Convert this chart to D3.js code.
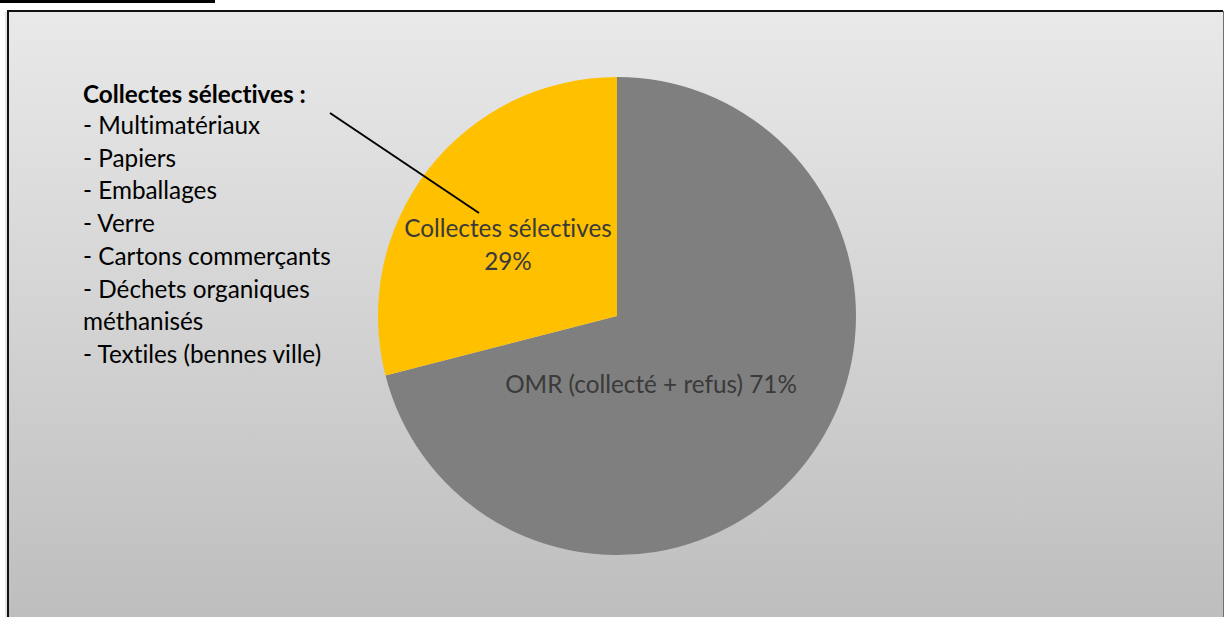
<!DOCTYPE html>
<html>
<head>
<meta charset="utf-8">
<script src="https://cdn.jsdelivr.net/npm/d3@7"></script>
<style>
html,body{margin:0;padding:0;background:#fff;}
svg{display:block;}
text{font-variant-ligatures:none;font-feature-settings:"liga" 0;}
</style>
</head>
<body>
<svg id="chart" width="1225" height="617"></svg>
<script>
const categories = ["OMR (collecté + refus)", "Collectes sélectives"];
const values = [71, 29];
const colors = ["#7f7f7f", "#ffc000"];
const legendTitle = "Collectes sélectives :";
const legendLines = ["- Multimatériaux", "- Papiers", "- Emballages", "- Verre", "- Cartons commerçants", "- Déchets organiques", "méthanisés", "- Textiles (bennes ville)"];

const svg = d3.select("#chart");
const FONT = "Lato, 'Open Sans', sans-serif";
const FS = 24.3;

const defs = svg.append("defs");
const grad = defs.append("linearGradient").attr("id","bg").attr("x1",0).attr("y1",0).attr("x2",0).attr("y2",1);
grad.append("stop").attr("offset","0%").attr("stop-color","#e9e9e9");
grad.append("stop").attr("offset","100%").attr("stop-color","#bdbdbd");

// top black bar
svg.append("rect").attr("x",0).attr("y",0).attr("width",215).attr("height",3).attr("fill","#000");

// chart area
svg.append("rect").attr("x",8).attr("y",11).attr("width",1215).attr("height",620).attr("fill","url(#bg)");
svg.append("line").attr("x1",8).attr("y1",11).attr("x2",1223).attr("y2",11).attr("stroke","#111").attr("stroke-width",2);
svg.append("line").attr("x1",8).attr("y1",10).attr("x2",8).attr("y2",617).attr("stroke","#111").attr("stroke-width",2);
svg.append("line").attr("x1",6).attr("y1",12).attr("x2",6).attr("y2",617).attr("stroke","#999").attr("stroke-width",1).attr("opacity",0.5);
svg.append("line").attr("x1",1223.5).attr("y1",11).attr("x2",1223.5).attr("y2",617).attr("stroke","#6f6f6f").attr("stroke-width",1);

// pie
const cx = 617, cy = 316, r = 239;
const pie = d3.pie().sort(null).value(d => d)(values);
const arc = d3.arc().innerRadius(0).outerRadius(r);
const g = svg.append("g").attr("transform", `translate(${cx},${cy})`);
g.selectAll("path").data(pie).join("path")
  .attr("d", arc).attr("fill", (d,i) => colors[i]);

const total = d3.sum(values);
const pct = v => Math.round(v/total*100) + "%";

// labels
const lab = svg.append("g").attr("font-family", FONT).attr("fill","#3a3a3a").attr("text-anchor","middle").attr("font-size",FS);
lab.append("text").attr("x",508).attr("y",237).text(categories[1]);
lab.append("text").attr("x",508).attr("y",270).text(pct(values[1]));
lab.append("text").attr("x",651).attr("y",393).text(categories[0] + " " + pct(values[0]));

// leader line
svg.append("line").attr("x1",330).attr("y1",113).attr("x2",479).attr("y2",213).attr("stroke","#000").attr("stroke-width",2);

// legend text
const leg = svg.append("g").attr("font-family", FONT).attr("fill","#000").attr("font-size",FS);
leg.append("text").attr("x",83).attr("y",103).attr("font-weight","bold").text(legendTitle);
leg.selectAll("text.l").data(legendLines).join("text").attr("class","l")
  .attr("x",83).attr("y",(d,i) => 134 + i*32.7).text(d => d);
</script>
</body>
</html>
